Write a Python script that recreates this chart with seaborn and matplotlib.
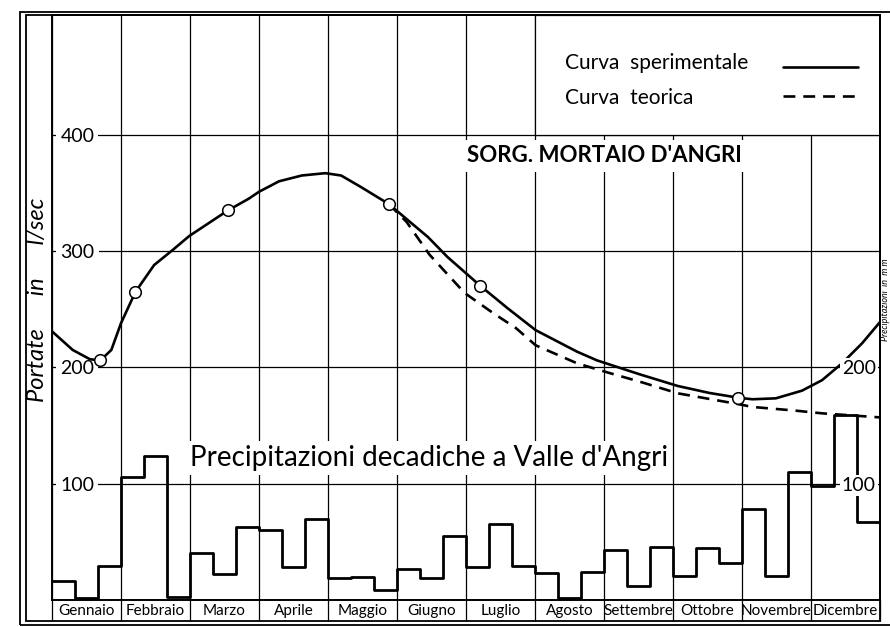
# ============================================
# Sorgente Mortaio d'Angri - portate e precipitazioni decadiche
# ============================================
# Curva sperimentale / teorica delle portate (l/sec) e
# precipitazioni decadiche a Valle d'Angri (mm)
# ============================================

import numpy as np
import matplotlib
matplotlib.use('Agg')
import matplotlib.pyplot as plt
from matplotlib.patches import Rectangle
from matplotlib.lines import Line2D
import seaborn as sns

# Month names for the bottom strip
mesi = ['Gennaio', 'Febbraio', 'Marzo', 'Aprile', 'Maggio', 'Giugno',
        'Luglio', 'Agosto', 'Settembre', 'Ottobre', 'Novembre', 'Dicembre']

# Curva sperimentale (time in months from 1 Jan, flow in l/sec)
t_sper = [0.0, 0.30, 0.55, 0.70, 0.86, 1.0, 1.21, 1.48, 1.75, 1.99,
          2.55, 2.85, 3.0, 3.29, 3.62, 3.96, 4.19, 4.48, 4.88, 5.45,
          5.73, 6.21, 6.6, 7.01, 7.61, 7.9, 8.52, 9.07, 9.53, 9.94,
          10.15, 10.49, 10.87, 11.16, 11.45, 11.74, 12.0]
q_sper = [231, 215, 207, 206, 215, 238, 265, 288, 301, 313,
          335, 345, 351, 360, 365, 367, 365, 355, 340.5, 312,
          295, 270, 251, 232, 213.5, 206, 194, 184, 178, 174,
          172.6, 173.4, 180, 189, 203.5, 220.7, 239]

# Measured points (open circles)
t_mis = [0.70, 1.21, 2.55, 4.88, 6.21, 9.94]
q_mis = [206, 265, 335, 340.5, 270, 174]

# Curva teorica (recession from the June measurement)
t_teor = [4.88, 5.14, 5.47, 5.98, 6.41, 6.72, 7.01, 7.61, 8.06, 8.52,
          9.07, 9.94, 10.15, 10.78, 11.16, 12.0]
q_teor = [340.5, 325, 297, 264, 246, 234, 219, 203.5, 195.5, 187.7,
          177.7, 168.5, 166, 162.8, 160.5, 157]

# Precipitazioni decadiche (mm), three decades per month
prec = [16, 2, 29,      # Gennaio
        106, 124, 3,    # Febbraio
        40, 22, 63,     # Marzo
        60, 28, 70,     # Aprile
        19, 20, 9,      # Maggio
        27, 19, 55,     # Giugno
        28, 65, 29,     # Luglio
        23, 2, 24,      # Agosto
        43, 12, 46,     # Settembre
        21, 45, 32,     # Ottobre
        78, 21, 110,    # Novembre
        98, 159, 67]    # Dicembre

q_ticks = [100, 200, 300, 400]
p_ticks = [100, 200]
y_top = 503

# Style
sns.set_theme(style='white')
plt.rcParams['font.family'] = ['Lato', 'DejaVu Sans']
ink = 'black'

W, H = 890, 627
fig = plt.figure(figsize=(W / 100, H / 100), dpi=100)
fig.patch.set_facecolor('white')
ax_right = 880
ax = fig.add_axes([52 / W, 1 - 600 / H, (ax_right - 52) / W, 585 / H])

# Precipitation steps (one bin per decade)
dec_centers = (np.arange(len(prec)) + 0.5) / 3
sns.histplot(x=dec_centers, weights=prec, bins=len(prec), binrange=(0, 12),
             element='step', fill=False, color=ink, linewidth=2.0, ax=ax)

# Flow curves
sns.lineplot(x=t_sper, y=q_sper, color=ink, linewidth=1.9, ax=ax, zorder=4)
sns.lineplot(x=t_teor, y=q_teor, color=ink, linewidth=1.9,
             linestyle=(0, (4.5, 3)), ax=ax, zorder=4)
sns.scatterplot(x=t_mis, y=q_mis, s=70, color='white', edgecolor=ink,
                linewidth=1.1, zorder=6, ax=ax)

ax.set_xlim(0, 12)
ax.set_ylim(0, y_top)
ax.set_xlabel('')
ax.set_ylabel('')

# Month grid and labels in the bottom strip
ax.set_xticks(range(13))
ax.set_xticklabels([])
ax.set_xticks(np.arange(12) + 0.5, minor=True)
ax.set_xticklabels(mesi, minor=True)
ax.tick_params(axis='x', which='major', bottom=True, direction='out',
               length=15, width=0.9, color=ink)
ax.tick_params(axis='x', which='minor', bottom=True, length=0, pad=3,
               labelsize=11, labelcolor=ink)

# Left flow labels placed inside the first month
ax.set_yticks(q_ticks)
ax.set_yticklabels([str(v) for v in q_ticks])
ax.tick_params(axis='y', left=False, length=0, pad=-6, labelsize=14,
               labelcolor=ink)
plt.setp(ax.get_yticklabels(), ha='left')
for lab in ax.get_yticklabels():
    lab.set_bbox(dict(facecolor='white', edgecolor='none', pad=3))

ax.grid(True, which='major', color=ink, linewidth=0.9)
for sp in ax.spines.values():
    sp.set_color(ink)
    sp.set_linewidth(1.4)

# Right precipitation labels inside December
ax2 = ax.twinx()
ax2.set_ylim(0, y_top)
ax2.set_yticks(p_ticks)
ax2.set_yticklabels([str(v) for v in p_ticks])
ax2.tick_params(axis='y', right=False, length=0, pad=-3, labelsize=14,
                labelcolor=ink)
plt.setp(ax2.get_yticklabels(), ha='right')
for lab in ax2.get_yticklabels():
    lab.set_bbox(dict(facecolor='white', edgecolor='none', pad=1.5))
ax2.grid(False)
for sp in ax2.spines.values():
    sp.set_visible(False)

# Legend panel (upper right, over the grid)
ax.add_patch(Rectangle((7, 400), 5, y_top - 400, facecolor='white',
                       edgecolor=ink, linewidth=0.9, zorder=1))
ax.text(7.43, 462, 'Curva  sperimentale', ha='left', va='center',
        fontsize=15, color=ink, zorder=3)
ax.text(7.43, 432, 'Curva  teorica', ha='left', va='center',
        fontsize=15, color=ink, zorder=3)
keys = [Line2D([], [], color=ink, linewidth=1.9),
        Line2D([], [], color=ink, linewidth=1.9, linestyle=(0, (4.5, 3)))]
ax.legend(handles=keys, labels=['', ''], loc='center right',
          bbox_to_anchor=((858 - 52) / (ax_right - 52), 0.885),
          frameon=False, markerfirst=False, handlelength=4.5,
          handletextpad=0, borderpad=0, borderaxespad=0,
          labelspacing=0.75, fontsize=12)

# Titles inside the plot
ax.text(8.0, 382, "SORG. MORTAIO D'ANGRI", ha='center', va='center',
        fontsize=16, fontweight='bold', color=ink, zorder=3,
        bbox=dict(facecolor='white', edgecolor='none', pad=4))
ax.text(2.0, 122, "Precipitazioni decadiche a Valle d'Angri", ha='left',
        va='center', fontsize=20, color=ink, zorder=3,
        bbox=dict(facecolor='white', edgecolor='none', pad=3))

# Axis titles in the side strips
fig.text(38 / W, 1 - 300 / H, 'Portate      in      l/sec', rotation=90,
         ha='center', va='center', fontsize=17, style='italic', color=ink)
fig.text(885.5 / W, 1 - 300 / H, 'Precipitazioni  in  m m', rotation=90,
         ha='center', va='center', fontsize=6.5, style='italic', color=ink)

# Double outer frame
fig.add_artist(Rectangle((20 / W, 2 / H), 900 / W, 613 / H,
                         transform=fig.transFigure, fill=False,
                         edgecolor=ink, linewidth=1.3))
fig.add_artist(Rectangle((26 / W, 6 / H), (ax_right - 26) / W, 606 / H,
                         transform=fig.transFigure, fill=False,
                         edgecolor=ink, linewidth=1.3))

fig.savefig('out.png', dpi=100, facecolor='white')
print("Saved: out.png")
